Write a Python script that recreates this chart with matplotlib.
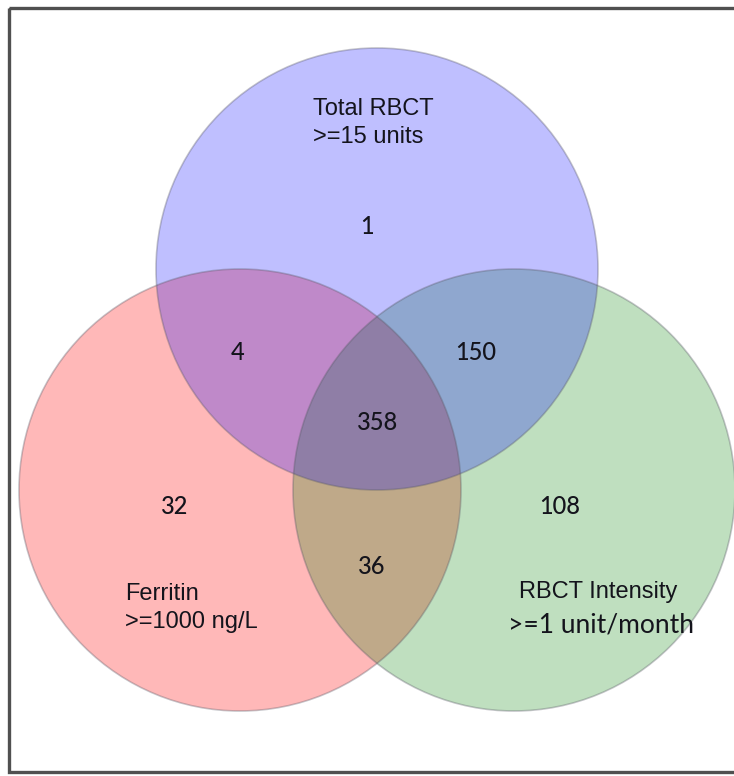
import matplotlib
matplotlib.use("Agg")
import matplotlib.pyplot as plt
from matplotlib.patches import Circle, Rectangle

# ---- data ----
set_names = ["Total RBCT", "Ferritin", "RBCT Intensity"]
set_criteria = [">=15 units", ">=1000 ng/L", ">=1 unit/month"]
region_keys = ["100", "110", "101", "111", "010", "001", "011"]  # (RBCT, Ferritin, Intensity)
region_counts = [1, 4, 150, 358, 32, 108, 36]

# ---- layout (pixel coords, y downward) ----
W, H = 734, 776
R = 221
centers = {"RBCT": (377, 269), "Ferritin": (240, 490), "Intensity": (514, 490)}
fills = {"Ferritin": ((1, 0, 0), 0.28), "Intensity": ((0, 0.5, 0), 0.25), "RBCT": ((0, 0, 1), 0.25)}
region_pos = {"100": (367, 226), "110": (238, 353), "101": (476, 353), "111": (378, 422),
              "010": (175, 507), "001": (560, 507), "011": (372, 567)}

fig = plt.figure(figsize=(W / 100, H / 100), dpi=100)
ax = fig.add_axes([0, 0, 1, 1])
ax.set_xlim(0, W)
ax.set_ylim(H, 0)
ax.set_aspect("equal")
ax.axis("off")

# frame
ax.add_patch(Rectangle((9, 8), 740, 764, fill=False, lw=2.4, edgecolor="#505050", zorder=5))

for key in ["Ferritin", "Intensity", "RBCT"]:
    col, a = fills[key]
    ax.add_patch(Circle(centers[key], R, facecolor=col, alpha=a, edgecolor="none", zorder=2))
for key in ["Ferritin", "Intensity", "RBCT"]:
    ax.add_patch(Circle(centers[key], R, fill=False, edgecolor=(0.35, 0.35, 0.4, 0.35), lw=1.2, zorder=3))

num_font = dict(family=["Lato", "DejaVu Sans"], fontsize=17, color="#14141c", ha="center", va="center",
                zorder=6, fontweight="medium")
for k, n in zip(region_keys, region_counts):
    x, y = region_pos[k]
    ax.text(x, y, str(n), **num_font)

lab = dict(family=["Liberation Sans", "DejaVu Sans"], fontsize=17, color="#14141c", zorder=6, linespacing=1.35)
ax.text(313, 123, f"{set_names[0]}\n{set_criteria[0]}", ha="left", va="center", **lab)
ax.text(125, 608, f"{set_names[1]}\n{set_criteria[1]}", ha="left", va="center", **lab)
ax.text(598, 592, set_names[2], ha="center", va="center", **lab)
ax.text(601, 625, set_criteria[2], ha="center", va="center",
        family=["Lato", "DejaVu Sans"], fontsize=19, color="#14141c", zorder=6)

fig.savefig("out.png", dpi=100)
